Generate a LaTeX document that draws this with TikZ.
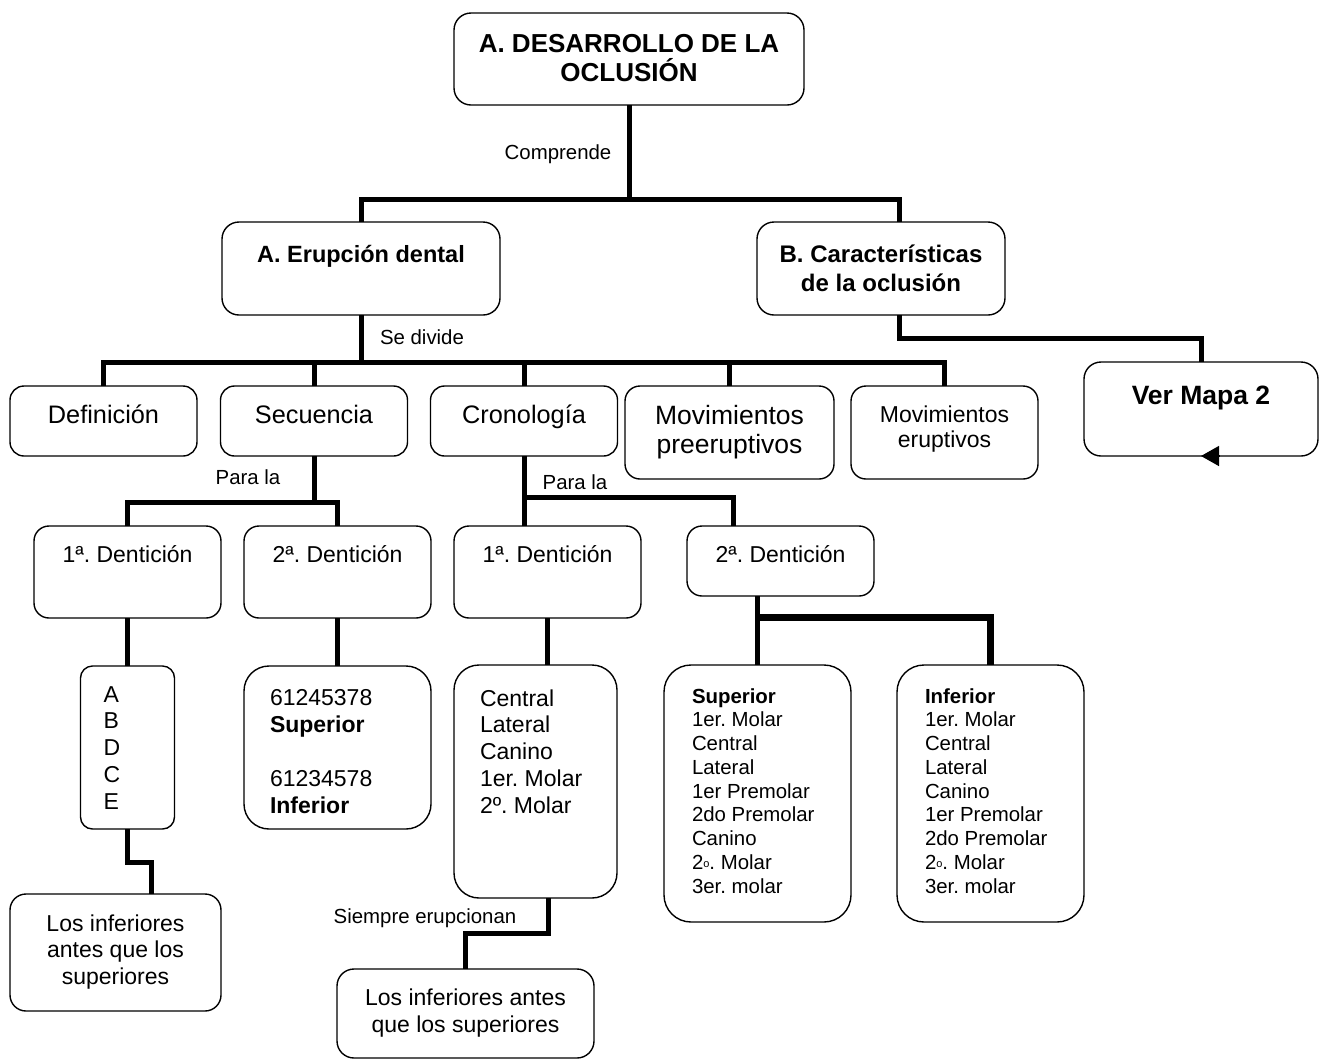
\documentclass[tikz,border=0pt]{standalone}
\usepackage{fontspec}
\setmainfont{Liberation Sans}
\usetikzlibrary{arrows.meta}
\frenchspacing

\newcommand{\smallo}{\raisebox{2pt}{\fontsize{11}{11}\selectfont o}}

\begin{document}
\begin{tikzpicture}[x=1pt, y=-1pt,
	box/.style={draw, line width=1.4pt, rounded corners=#1, anchor=north, inner sep=0pt, outer sep=0pt},
	box/.default=15pt,
	rowbox/.style={box=14pt, minimum width=187pt, text height=37pt, text depth=33pt, font=\fontsize{25.3}{29}\selectfont},
	denbox/.style={box=15pt, minimum width=187pt, text height=36pt, text depth=56pt, font=\fontsize{23}{27}\selectfont},
	lstbox/.style={box=27pt, minimum width=187pt, text height=38pt, text depth=219pt, font=\fontsize{20.4}{23.75}\selectfont},
	link/.style={line width=5pt},
	thicklink/.style={line width=7pt},
	lbl/.style={anchor=base, inner sep=0pt, font=\fontsize{20.4}{24}\selectfont}]
	\useasboundingbox (0,0) rectangle (1328,1061);
	%
	\node[box=17pt, minimum width=350pt, text height=39pt, text depth=53pt, font=\fontsize{26}{29}\selectfont\bfseries] (title) at (629,13) {\parbox[t]{340pt}{\centering A. DESARROLLO DE LA\\OCLUSIÓN}};
	\node[box=17pt, minimum width=278pt, text height=40pt, text depth=53pt, font=\fontsize{23.5}{29}\selectfont\bfseries] (erup) at (361,222) {A. Erupción dental};
	\node[box=17pt, minimum width=248pt, text height=40pt, text depth=53pt, font=\fontsize{24}{29}\selectfont\bfseries] (carac) at (881,222) {\parbox[t]{240pt}{\centering B. Características\\de la oclusión}};
	\node[box=17pt, minimum width=234pt, text height=42pt, text depth=52pt, font=\fontsize{26.5}{30}\selectfont\bfseries] (mapa) at (1201,362) {Ver Mapa 2};
	%
	\node[rowbox] (defin) at (103.5,386) {Definición};
	\node[rowbox] (secu) at (314,386) {Secuencia};
	\node[rowbox] (crono) at (524,386) {Cronología};
	\node[box=15pt, minimum width=209pt, text height=38pt, text depth=55pt, font=\fontsize{26.5}{29}\selectfont] (movpre) at (729.5,386) {\parbox[t]{200pt}{\centering Movimientos\\preeruptivos}};
	\node[box=15pt, minimum width=187pt, text height=36pt, text depth=57pt, font=\fontsize{23}{25.5}\selectfont] (movero) at (944.5,386) {\parbox[t]{180pt}{\centering Movimientos\\eruptivos}};
	%
	\node[denbox] (sden1) at (127.5,526) {1ª. Dentición};
	\node[denbox] (sden2) at (337.5,526) {2ª. Dentición};
	\node[denbox] (cden1) at (547.5,526) {1ª. Dentición};
	\node[denbox, text depth=34pt] (cden2) at (780.5,526) {2ª. Dentición};
	%
	\node[box=12pt, minimum width=94pt, text height=36pt, text depth=127pt, font=\fontsize{23}{26.75}\selectfont] (abc) at (127.5,666) {\parbox[t]{48pt}{\raggedright A\\B\\D\\C\\E}};
	\node[box=25pt, minimum width=187pt, text height=39pt, text depth=124pt, font=\fontsize{23}{27}\selectfont] (seq) at (337.5,666) {\parbox[t]{135pt}{\raggedright 61245378\\\textbf{Superior}\\[27pt]61234578\\\textbf{Inferior}}};
	\node[box=25pt, minimum width=163pt, text height=41pt, text depth=192pt, font=\fontsize{23}{26.75}\selectfont] (cent) at (535.5,665) {\parbox[t]{111pt}{\raggedright Central\\Lateral\\Canino\\1er. Molar\\2º. Molar}};
	\node[lstbox] (sup) at (757.5,665) {\parbox[t]{131pt}{\raggedright\textbf{Superior}\\1er. Molar\\Central\\Lateral\\1er Premolar\\2do Premolar\\Canino\\2\smallo. Molar\\3er. molar}};
	\node[lstbox] (inf) at (990.5,665) {\parbox[t]{131pt}{\raggedright\textbf{Inferior}\\1er. Molar\\Central\\Lateral\\Canino\\1er Premolar\\2do Premolar\\2\smallo. Molar\\3er. molar}};
	%
	\node[box=16pt, minimum width=211pt, text height=37pt, text depth=80pt, font=\fontsize{23}{26.5}\selectfont] (lowl) at (115.5,894) {\parbox[t]{205pt}{\centering Los inferiores\\antes que los\\superiores}};
	\node[box=17pt, minimum width=257pt, text height=36pt, text depth=53pt, font=\fontsize{23}{27}\selectfont] (lowm) at (465.5,969) {\parbox[t]{250pt}{\centering Los inferiores antes\\que los superiores}};
	%
	%
	\coordinate (hub) at (629,199);
	\draw[link] (title.south) -- (hub);
	\draw[link] (erup.north) |- (hub) -| ([xshift=18]carac.north);
	\node[lbl] (lcomp) at (558,159) {Comprende};
	%
	\coordinate (sd) at (361,362);
	\draw[link] (erup.south) -- (sd);
	\draw[link] (defin.north) |- (sd) -| (movero.north);
	\foreach \n in {secu, crono, movpre}
		\draw[link] (\n.north) -- (\n.north |- sd);
	\node[lbl] (ldiv) at (422,344) {Se divide};
	%
	\draw[link] ([xshift=18]carac.south) -- ++(0,23) -| (mapa.north);
	\draw[-{Triangle[length=18pt,width=20pt]}, line width=1.4pt] ([xshift=18]mapa.south) -- (mapa.south);
	%
	\coordinate (sj) at (314,502);
	\draw[link] (secu.south) -- (sj);
	\draw[link] (sden1.north) |- (sj) -| (sden2.north);
	\node[lbl] (lpara1) at (248,484) {Para la};
	%
	\draw[link] (crono.south) -- (crono.south |- cden1.north);
	\coordinate (cj) at (524,497);
	\draw[link] (cj) -| ([xshift=-47]cden2.north);
	\node[lbl] (lpara2) at (575,489) {Para la};
	%
	\draw[link] (sden1.south) -- (abc.north);
	\draw[link] (sden2.south) -- (seq.north);
	\draw[link] (cden1.south) -- (cden1.south |- cent.north);
	\draw[link] (sup.north |- cden2.south) -- (sup.north);
	\coordinate (dj) at (757.5,617);
	\draw[thicklink] (dj) -| (inf.north);
	%
	\draw[link] (abc.south) -- ++(0,33) -| ([xshift=35.5]lowl.north);
	\draw[link] ([xshift=12.5]cent.south) -- ++(0,35) -| (lowm.north);
	\node[lbl] (lsiempre) at (425,923) {Siempre erupcionan};
\end{tikzpicture}
\end{document}
